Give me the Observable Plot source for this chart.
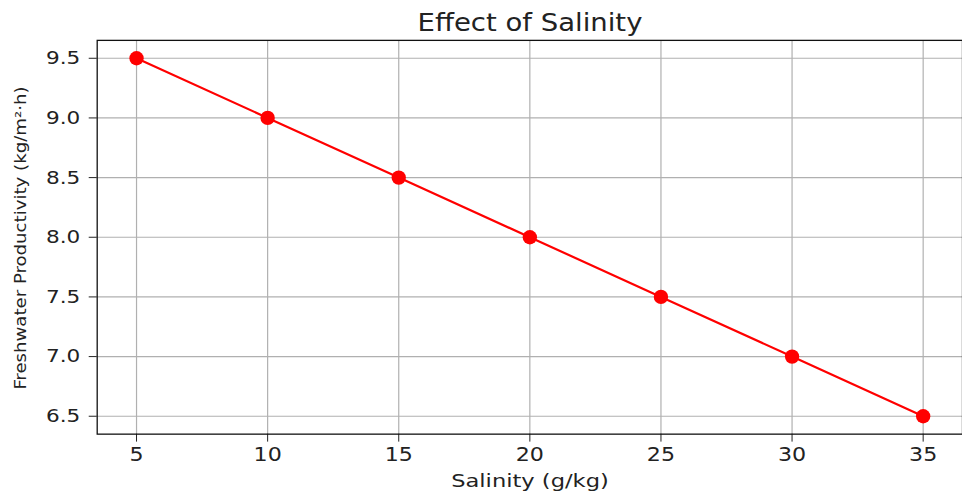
<!DOCTYPE html>
<html>
<head>
<meta charset="utf-8">
<script src="https://cdn.jsdelivr.net/npm/d3@7"></script>
<script src="https://cdn.jsdelivr.net/npm/@observablehq/plot@0.6"></script>
<style>
  html, body { margin: 0; padding: 0; background: #fff; }
  body { width: 962px; height: 492px; overflow: hidden; position: relative; font-family: "DejaVu Sans", sans-serif; color: #222; }
  .lbl { position: absolute; white-space: nowrap; line-height: 1; }
  #chart { position: absolute; left: 0; top: 0; }
</style>
</head>
<body>
<div id="chart"></div>
<div class="lbl" id="title" style="left:530px; top:22px; font-size:25px; transform: translate(-50%, -50%) scaleX(1.1);">Effect of Salinity</div>
<div class="lbl" id="xlabel" style="left:530px; top:481px; font-size:18.5px; transform: translate(-50%, -50%) scaleX(1.22);">Salinity (g/kg)</div>
<div class="lbl" id="ylabel" style="left:21px; top:238px; font-size:16px; font-family:'DejaVu Sans Condensed','DejaVu Sans',sans-serif; font-stretch:condensed; transform: translate(-50%, -50%) rotate(-90deg) scaleX(1.26);">Freshwater Productivity (kg/m²·h)</div>
<script>
const salinity = [5, 10, 15, 20, 25, 30, 35];
const productivity = [9.5, 9.0, 8.5, 8.0, 7.5, 7.0, 6.5];
const xTicks = [5, 10, 15, 20, 25, 30, 35];
const yTicks = [6.5, 7.0, 7.5, 8.0, 8.5, 9.0, 9.5];

const data = salinity.map((s, i) => ({s, p: productivity[i]}));

const chart = Plot.plot({
  width: 965,
  height: 492,
  marginLeft: 97,
  marginRight: 0,
  marginTop: 40,
  marginBottom: 57,
  style: {fontFamily: "DejaVu Sans, sans-serif", fontSize: "19px", color: "#222", background: "white"},
  x: {domain: [3.5, 36.5]},
  y: {domain: [6.35, 9.65]},
  marks: [
    Plot.gridX(xTicks, {stroke: "#b0b0b0", strokeOpacity: 1, strokeWidth: 1.2}),
    Plot.gridY(yTicks, {stroke: "#b0b0b0", strokeOpacity: 1, strokeWidth: 1.2}),
    Plot.axisX(xTicks, {tickSize: 8, tickPadding: 5, label: null, fontSize: 19, stroke: "#222"}),
    Plot.axisY(yTicks, {tickSize: 8, tickPadding: 9, label: null, fontSize: 18.5, tickFormat: d => d.toFixed(1), stroke: "#222"}),
    Plot.frame({stroke: "#111", strokeWidth: 1.3}),
    Plot.line(data, {x: "s", y: "p", stroke: "red", strokeWidth: 2.2}),
    Plot.dot(data, {x: "s", y: "p", r: 7.2, fill: "red", stroke: "none"})
  ]
});

document.getElementById("chart").appendChild(chart);

// widen tick labels horizontally to match the reference's stretched glyphs
chart.querySelectorAll('g[aria-label$="tick label"] text').forEach(t => {
  const L = t.getComputedTextLength();
  if (L > 0) {
    t.setAttribute("textLength", (L * 1.17).toFixed(2));
    t.setAttribute("lengthAdjust", "spacingAndGlyphs");
  }
});
</script>
</body>
</html>
